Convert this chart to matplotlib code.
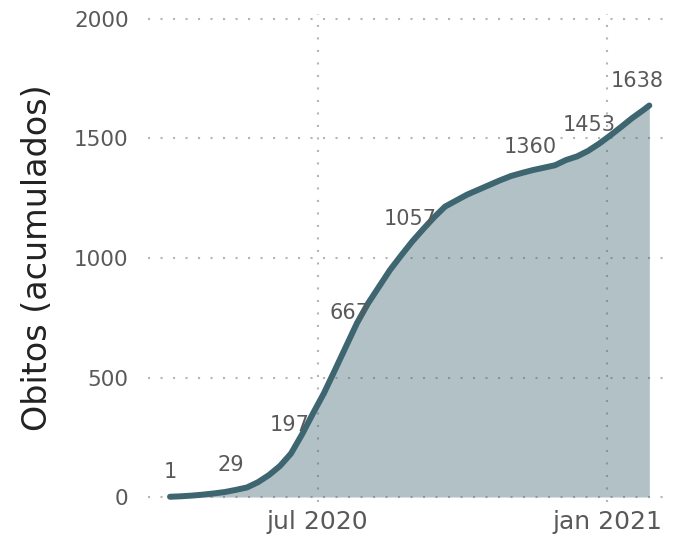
import numpy as np
import pandas as pd
import matplotlib
matplotlib.use("Agg")
import matplotlib.pyplot as plt
import matplotlib.dates as mdates

# Cumulative deaths (roughly weekly)
dates = pd.to_datetime([
    "2020-03-29", "2020-04-05", "2020-04-12", "2020-04-19", "2020-04-26",
    "2020-05-03", "2020-05-10", "2020-05-17", "2020-05-24", "2020-05-31",
    "2020-06-07", "2020-06-14", "2020-06-21", "2020-06-28", "2020-07-05",
    "2020-07-12", "2020-07-19", "2020-07-26", "2020-08-02", "2020-08-09",
    "2020-08-16", "2020-08-23", "2020-08-30", "2020-09-06", "2020-09-13",
    "2020-09-20", "2020-09-27", "2020-10-04", "2020-10-11", "2020-10-18",
    "2020-10-25", "2020-11-01", "2020-11-08", "2020-11-15", "2020-11-22",
    "2020-11-29", "2020-12-06", "2020-12-13", "2020-12-20", "2020-12-27",
    "2021-01-03", "2021-01-10", "2021-01-17", "2021-01-24", "2021-01-28",
])
obitos = [
    1, 3, 6, 10, 15,
    21, 30, 40, 62, 92,
    130, 182, 262, 350, 435,
    532, 630, 728, 810, 880,
    950, 1010, 1068, 1120, 1170,
    1215, 1240, 1265, 1285, 1305,
    1325, 1343, 1356, 1368, 1378,
    1388, 1410, 1425, 1448, 1478,
    1512, 1548, 1585, 1618, 1638,
]

# Labelled points
label_dates = pd.to_datetime([
    "2020-03-29", "2020-05-07", "2020-06-13", "2020-07-21",
    "2020-08-29", "2020-11-13", "2020-12-21", "2021-01-28",
])
label_values = [1, 29, 197, 667, 1057, 1360, 1453, 1638]
label_nudge = [0, 0, 0, 0, 0, 0, 0, -9]  # points, last one pushed left

xtick_dates = pd.to_datetime(["2020-07-01", "2021-01-01"])
xtick_labels = ["jul 2020", "jan 2021"]
yticks = [0, 500, 1000, 1500, 2000]

line_color = "#3e6670"
grid_color = "#b5b5b5"
text_color = "#595959"

fig = plt.figure(figsize=(6.83, 5.38), dpi=100)
ax = fig.add_axes([0.2167, 0.0673, 0.757, 0.9063])

ax.fill_between(dates, obitos, 0, color=line_color, alpha=0.4, linewidth=0, zorder=2)
ax.plot(dates, obitos, color=line_color, linewidth=4.3, solid_capstyle="round",
        solid_joinstyle="round", zorder=3, clip_on=False)

for d, v, dx in zip(label_dates, label_values, label_nudge):
    ax.annotate(str(v), (d, v), xytext=(dx, 18), textcoords="offset points",
                ha="center", va="center", fontsize=15, color=text_color, zorder=4)

ax.set_xlim(pd.Timestamp("2020-03-15"), pd.Timestamp("2021-02-07"))
ax.set_ylim(-20, 2020)
ax.set_xticks(xtick_dates)
ax.set_xticklabels(xtick_labels)
ax.set_yticks(yticks)

ax.grid(True, color=grid_color, linestyle=(0, (1, 5)), linewidth=1.5, zorder=1)
ax.set_axisbelow(True)
for s in ax.spines.values():
    s.set_visible(False)

ax.tick_params(axis="x", length=0, pad=6, labelsize=18, labelcolor=text_color)
ax.tick_params(axis="y", length=0, pad=14, labelsize=15.5, labelcolor=text_color)
ax.set_ylabel("Obitos (acumulados)", fontsize=24, color="#222222", labelpad=14)

fig.savefig("out.png", dpi=100)
